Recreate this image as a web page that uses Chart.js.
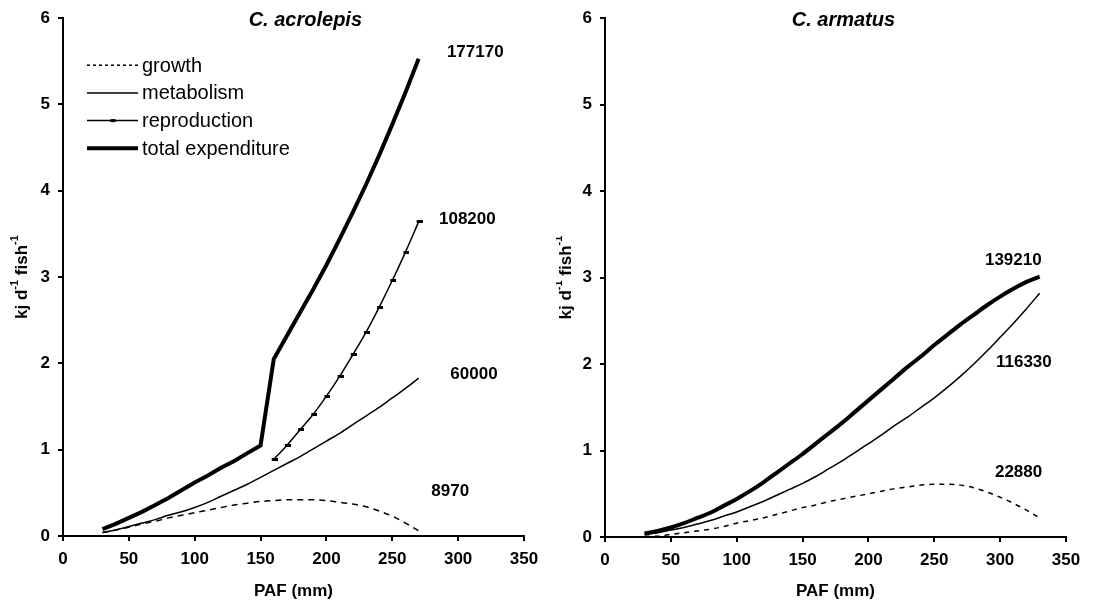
<!DOCTYPE html>
<html>
<head>
<meta charset="utf-8">
<script src="https://cdn.jsdelivr.net/npm/chart.js@4.4.0/dist/chart.umd.min.js"></script>
<style>
  html, body { margin: 0; padding: 0; background: #fff; }
  #wrap { position: relative; width: 1111px; height: 602px; }
  .panel { position: absolute; top: 0; height: 602px; }
  #left { left: 0; width: 556px; }
  #right { left: 556px; width: 555px; }
</style>
</head>
<body>
<div id="wrap">
  <div class="panel" id="left"><canvas id="acroChart"></canvas></div>
  <div class="panel" id="right"><canvas id="armaChart"></canvas></div>
</div>
<script>
// C. acrolepis (PAF in mm, kj per day per fish)
const acroSize = [30, 40, 50, 60, 70, 80, 90, 100, 110, 120, 130, 140, 150, 160, 170, 180, 190, 200, 210, 220, 230, 240, 250, 260, 270];
const acroGrowth = [0.04, 0.07, 0.10, 0.14, 0.17, 0.21, 0.24, 0.27, 0.30, 0.33, 0.36, 0.38, 0.40, 0.41, 0.42, 0.42, 0.42, 0.41, 0.39, 0.37, 0.34, 0.29, 0.23, 0.15, 0.06];
const acroMetab = [0.04, 0.07, 0.11, 0.15, 0.19, 0.24, 0.28, 0.33, 0.39, 0.46, 0.53, 0.60, 0.68, 0.76, 0.84, 0.92, 1.01, 1.10, 1.19, 1.29, 1.39, 1.49, 1.60, 1.71, 1.83];
const acroTotal = [0.08, 0.14, 0.21, 0.28, 0.36, 0.44, 0.53, 0.62, 0.70, 0.79, 0.87, 0.96, 1.05, 2.05, 2.32, 2.59, 2.86, 3.14, 3.44, 3.75, 4.07, 4.41, 4.77, 5.14, 5.53];
const reproSize = [160, 170, 180, 190, 200, 210, 220, 230, 240, 250, 260, 270];
const acroRepro = [0.89, 1.05, 1.23, 1.41, 1.62, 1.85, 2.10, 2.36, 2.65, 2.96, 3.29, 3.64];

// C. armatus
const armaSize = [30, 40, 50, 60, 70, 80, 90, 100, 110, 120, 130, 140, 150, 160, 170, 180, 190, 200, 210, 220, 230, 240, 250, 260, 270, 280, 290, 300, 310, 320, 330];
const armaGrowth = [0.01, 0.01, 0.03, 0.05, 0.07, 0.09, 0.12, 0.16, 0.19, 0.22, 0.26, 0.30, 0.34, 0.37, 0.41, 0.44, 0.47, 0.50, 0.53, 0.56, 0.58, 0.60, 0.61, 0.61, 0.60, 0.57, 0.52, 0.46, 0.39, 0.31, 0.22];
const armaMetab = [0.03, 0.05, 0.08, 0.11, 0.15, 0.19, 0.24, 0.29, 0.35, 0.41, 0.48, 0.55, 0.62, 0.70, 0.79, 0.88, 0.98, 1.08, 1.18, 1.29, 1.39, 1.50, 1.61, 1.73, 1.86, 2.00, 2.15, 2.31, 2.47, 2.64, 2.82];
const armaTotal = [0.04, 0.07, 0.11, 0.16, 0.22, 0.28, 0.36, 0.44, 0.53, 0.63, 0.74, 0.85, 0.96, 1.08, 1.20, 1.32, 1.45, 1.58, 1.71, 1.84, 1.97, 2.09, 2.22, 2.34, 2.46, 2.57, 2.68, 2.78, 2.87, 2.95, 3.01];

// end-of-curve totals printed on the chart
const acroNotes = ['177170', '108200', '60000', '8970'];
const armaNotes = ['139210', '116330', '22880'];

const FONT = 'Liberation Sans, Arial, Helvetica, sans-serif';
Chart.defaults.font.family = FONT;
Chart.defaults.color = '#000';

function pts(xs, ys) {
    return xs.map((x, i) => ({ x: x, y: ys[i] }));
}

// little bar used as marker on the reproduction curve
const marker = document.createElement('canvas');
marker.width = 8;
marker.height = 3;
const mctx = marker.getContext('2d');
mctx.fillStyle = '#000';
mctx.fillRect(2, 0, 6, 3);

const bold17 = { family: FONT, size: 17, weight: 'bold' };

function scalesFor(yWidth, xHeight) {
    const grid = { drawOnChartArea: false, drawTicks: true, tickLength: 5, color: '#000', lineWidth: 2 };
    const border = { display: true, color: '#000', width: 2 };
    return {
        x: {
            type: 'linear', min: 0, max: 350,
            afterFit: s => { s.height = xHeight; },
            ticks: { stepSize: 50, color: '#000', font: bold17, padding: 8, maxRotation: 0 },
            grid: grid, border: border,
            title: { display: true, text: 'PAF (mm)', color: '#000', font: bold17, padding: { top: 0, bottom: 0 } }
        },
        y: {
            type: 'linear', min: 0, max: 6,
            afterFit: s => { s.width = yWidth; },
            ticks: { stepSize: 1, color: '#000', font: bold17, padding: 8 },
            grid: grid, border: border
        }
    };
}

function line(label, data, width, extra) {
    return Object.assign({
        label: label, data: data,
        borderColor: '#000', backgroundColor: '#000',
        borderWidth: width, pointRadius: 0, fill: false,
        cubicInterpolationMode: 'monotone'
    }, extra || {});
}

// titles and end labels, placed in data coordinates
const textMarks = {
    id: 'textMarks',
    afterDatasetsDraw(chart, args, opts) {
        const ctx = chart.ctx;
        const sx = chart.scales.x, sy = chart.scales.y;
        (opts.items || []).forEach(it => {
            ctx.save();
            ctx.font = it.font;
            ctx.fillStyle = '#000';
            ctx.textAlign = 'center';
            ctx.textBaseline = 'middle';
            ctx.fillText(it.text, sx.getPixelForValue(it.x), sy.getPixelForValue(it.y));
            ctx.restore();
        });
    }
};

// rotated y title with superscripts: kj d-1 fish-1
const yTitle = {
    id: 'yTitle',
    afterDraw(chart, args, opts) {
        const ctx = chart.ctx;
        const a = chart.chartArea;
        const parts = [
            { t: 'kj d', f: 'bold 17px ' + FONT, dy: 0 },
            { t: '-1', f: 'bold 11px ' + FONT, dy: -7 },
            { t: ' fish', f: 'bold 17px ' + FONT, dy: 0 },
            { t: '-1', f: 'bold 11px ' + FONT, dy: -7 }
        ];
        let total = 0;
        parts.forEach(p => { ctx.font = p.f; p.w = ctx.measureText(p.t).width; total += p.w; });
        ctx.save();
        ctx.translate(opts.x, (a.top + a.bottom) / 2);
        ctx.rotate(-Math.PI / 2);
        ctx.fillStyle = '#000';
        ctx.textBaseline = 'middle';
        let x = -total / 2;
        parts.forEach(p => {
            ctx.font = p.f;
            ctx.fillText(p.t, x, p.dy);
            x += p.w;
        });
        ctx.restore();
    }
};

// legend inside the left panel
const insideLegend = {
    id: 'insideLegend',
    afterDraw(chart, args, opts) {
        if (!opts.show) return;
        const ctx = chart.ctx;
        const a = chart.chartArea;
        chart.data.datasets.forEach((ds, row) => {
            const y = a.top + 47 + row * 27.7;
            const x0 = a.left + 24, x1 = a.left + 75;
            ctx.save();
            ctx.strokeStyle = '#000';
            ctx.lineWidth = ds.borderWidth;
            ctx.setLineDash(ds.borderDash ? [3, 3] : []);
            ctx.beginPath();
            ctx.moveTo(x0, y);
            ctx.lineTo(x1, y);
            ctx.stroke();
            if (ds.pointStyle) {
                ctx.fillStyle = '#000';
                ctx.fillRect((x0 + x1) / 2 - 2, y - 1.5, 5, 3);
            }
            ctx.font = '20px ' + FONT;
            ctx.fillStyle = '#000';
            ctx.textBaseline = 'middle';
            ctx.fillText(ds.label, x1 + 4, y + 1);
            ctx.restore();
        });
    }
};

const titleFont = 'italic bold 20px ' + FONT;
const noteFont = 'bold 17px ' + FONT;

new Chart(document.getElementById('acroChart'), {
    type: 'line',
    data: {
        datasets: [
            line('growth', pts(acroSize, acroGrowth), 1.5, { borderDash: [6, 5] }),
            line('metabolism', pts(acroSize, acroMetab), 1.5),
            line('reproduction', pts(reproSize, acroRepro), 1.5, { pointStyle: marker, pointRadius: 3 }),
            line('total expenditure', pts(acroSize, acroTotal), 4, { cubicInterpolationMode: 'default', tension: 0 })
        ]
    },
    options: {
        responsive: true,
        maintainAspectRatio: false,
        animation: false,
        layout: { padding: { top: 15, right: 32, bottom: 0, left: 0 } },
        scales: scalesFor(63, 66),
        plugins: {
            legend: { display: false },
            tooltip: { enabled: false },
            insideLegend: { show: true },
            yTitle: { x: 22 },
            textMarks: {
                items: [
                    { text: 'C. acrolepis', x: 184, y: 5.97, font: titleFont },
                    { text: acroNotes[0], x: 313, y: 5.6, font: noteFont },
                    { text: acroNotes[1], x: 307, y: 3.67, font: noteFont },
                    { text: acroNotes[2], x: 312, y: 1.87, font: noteFont },
                    { text: acroNotes[3], x: 294, y: 0.52, font: noteFont }
                ]
            }
        }
    },
    plugins: [textMarks, yTitle, insideLegend]
});

new Chart(document.getElementById('armaChart'), {
    type: 'line',
    data: {
        datasets: [
            line('growth', pts(armaSize, armaGrowth), 1.5, { borderDash: [5, 5] }),
            line('metabolism', pts(armaSize, armaMetab), 1.5),
            line('total expenditure', pts(armaSize, armaTotal), 4)
        ]
    },
    options: {
        responsive: true,
        maintainAspectRatio: false,
        animation: false,
        layout: { padding: { top: 15, right: 45, bottom: 0, left: 0 } },
        scales: scalesFor(49, 65),
        plugins: {
            legend: { display: false },
            tooltip: { enabled: false },
            insideLegend: { show: false },
            yTitle: { x: 10 },
            textMarks: {
                items: [
                    { text: 'C. armatus', x: 181, y: 5.97, font: titleFont },
                    { text: armaNotes[0], x: 310, y: 3.2, font: noteFont },
                    { text: armaNotes[1], x: 318, y: 2.02, font: noteFont },
                    { text: armaNotes[2], x: 314, y: 0.75, font: noteFont }
                ]
            }
        }
    },
    plugins: [textMarks, yTitle, insideLegend]
});
</script>
</body>
</html>
